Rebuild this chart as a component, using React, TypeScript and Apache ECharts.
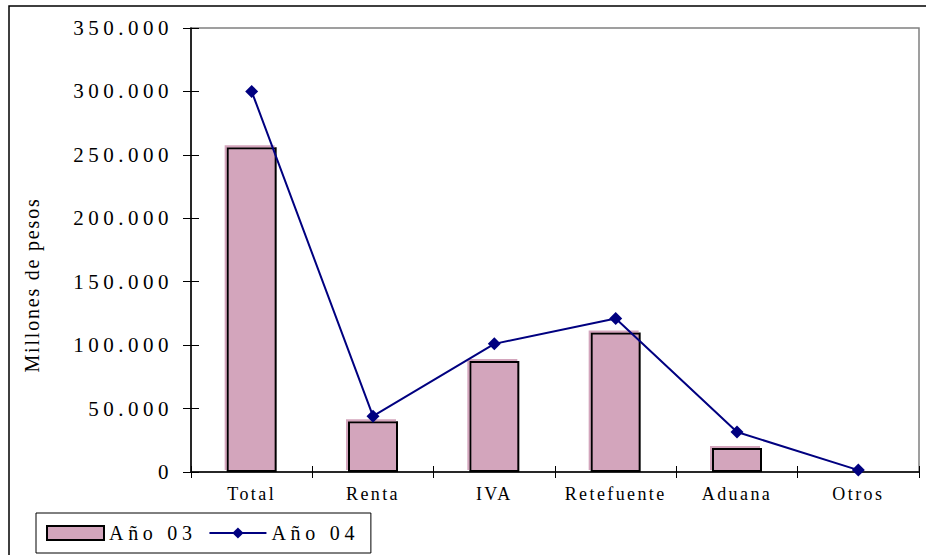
import React, { useEffect, useRef } from 'react';
import * as echarts from 'echarts';

const categories = ['Total', 'Renta', 'IVA', 'Retefuente', 'Aduana', 'Otros'];
const ano03 = [256000, 40000, 87500, 110000, 19000, 0];
const ano04 = [300000, 44000, 101000, 121000, 31500, 1500];
const yTickLabels = ['0', '50.000', '100.000', '150.000', '200.000', '250.000', '300.000', '350.000'];
const seriesNames = ['Año 03', 'Año 04'];
const yAxisName = 'Millones de pesos';

const FONT = 'Liberation Serif';
const PINK = '#D3A5BC';
const NAVY = '#000080';

export default function App() {
  const ref = useRef<HTMLDivElement>(null);

  useEffect(() => {
    const el = ref.current;
    if (!el) return;
    const chart = echarts.init(el, null, { renderer: 'svg' });

    const option: any = {
      animation: false,
      backgroundColor: '#ffffff',
      grid: {
        left: 191,
        right: 7,
        top: 28,
        bottom: 83,
        show: true,
        borderColor: '#808080',
        borderWidth: 1.5,
        backgroundColor: 'transparent',
      },
      xAxis: [
        {
          type: 'category',
          data: categories,
          position: 'bottom',
          axisLine: { show: true, lineStyle: { color: '#000', width: 1.5 } },
          axisTick: { show: true, inside: false, length: 6, lineStyle: { color: '#000', width: 1 } },
          axisLabel: { color: '#000', fontFamily: FONT, fontSize: 18, margin: 13 },
          splitLine: { show: false },
        },
        {
          type: 'category',
          data: categories,
          position: 'bottom',
          axisLine: { show: false },
          axisTick: { show: true, inside: true, length: 6, lineStyle: { color: '#000', width: 1 } },
          axisLabel: { show: false },
          splitLine: { show: false },
        },
      ],
      yAxis: [
        {
          type: 'value',
          position: 'left',
          min: 0,
          max: 350000,
          interval: 50000,
          axisLine: { show: true, lineStyle: { color: '#000', width: 1.5 } },
          axisTick: { show: true, inside: false, length: 8, lineStyle: { color: '#000', width: 1 } },
          axisLabel: {
            color: '#000',
            fontFamily: FONT,
            fontSize: 21,
            margin: 18,
            padding: [0, 0, 4, 0],
            formatter: (v: number) => yTickLabels[Math.round(v / 50000)] ?? '',
          },
          splitLine: { show: false },
        },
        {
          type: 'value',
          position: 'left',
          min: 0,
          max: 350000,
          interval: 50000,
          axisLine: { show: false },
          axisTick: { show: true, inside: true, length: 8, lineStyle: { color: '#000', width: 1 } },
          axisLabel: { show: false },
          splitLine: { show: false },
        },
      ],
      legend: {
        left: 36,
        top: 513,
        orient: 'horizontal',
        padding: [10, 40, 10, 10],
        itemGap: 40,
        itemWidth: 57,
        itemHeight: 14,
        borderColor: '#000',
        borderWidth: 1,
        borderRadius: 0,
        backgroundColor: '#fff',
        textStyle: { fontFamily: FONT, fontSize: 20, color: '#000' },
        data: [{ name: seriesNames[0], icon: 'rect' }, { name: seriesNames[1] }],
      },
      graphic: [
        {
          type: 'rect',
          z: -10,
          silent: true,
          shape: { x: 9, y: 6, width: 1000, height: 1000 },
          style: { fill: 'none', stroke: '#000', lineWidth: 1.5 },
        },
        {
          type: 'text',
          x: 32,
          y: 285,
          rotation: Math.PI / 2,
          silent: true,
          style: {
            text: yAxisName,
            fontFamily: FONT,
            fontSize: 20,
            fill: '#000',
            textAlign: 'center',
            textVerticalAlign: 'middle',
            align: 'center',
            verticalAlign: 'middle',
          },
        },
      ],
      series: [
        {
          name: seriesNames[0],
          type: 'bar',
          data: ano03,
          barWidth: 50,
          xAxisIndex: 0,
          yAxisIndex: 0,
          itemStyle: {
            color: PINK,
            borderColor: '#000',
            borderWidth: 2,
            shadowColor: PINK,
            shadowBlur: 0,
            shadowOffsetX: -2,
            shadowOffsetY: -2,
          },
        },
        {
          name: seriesNames[1],
          type: 'line',
          data: ano04,
          xAxisIndex: 0,
          yAxisIndex: 0,
          symbol: 'diamond',
          symbolSize: 13,
          lineStyle: { color: NAVY, width: 2 },
          itemStyle: { color: NAVY },
        },
      ],
    };

    chart.setOption(option);

    const applySpacing = () => {
      const svg = el.querySelector('svg');
      if (!svg) return;
      svg.querySelectorAll('text').forEach((t) => {
        const s = (t.textContent || '').trim();
        let ls = 0;
        if (yTickLabels.includes(s)) ls = 4.5;
        else if (categories.includes(s)) ls = 2.4;
        else if (seriesNames.includes(s)) ls = 4.7;
        else if (s === yAxisName) ls = 1.8;
        if (ls) t.setAttribute('letter-spacing', String(ls));
      });
    };
    applySpacing();
    chart.on('finished', applySpacing);
    const raf = requestAnimationFrame(applySpacing);
    const to = setTimeout(applySpacing, 50);

    return () => {
      cancelAnimationFrame(raf);
      clearTimeout(to);
      chart.dispose();
    };
  }, []);

  return (
    <div
      ref={ref}
      style={{ position: 'fixed', left: 0, top: 0, width: 926, height: 555, background: '#fff' }}
    />
  );
}
